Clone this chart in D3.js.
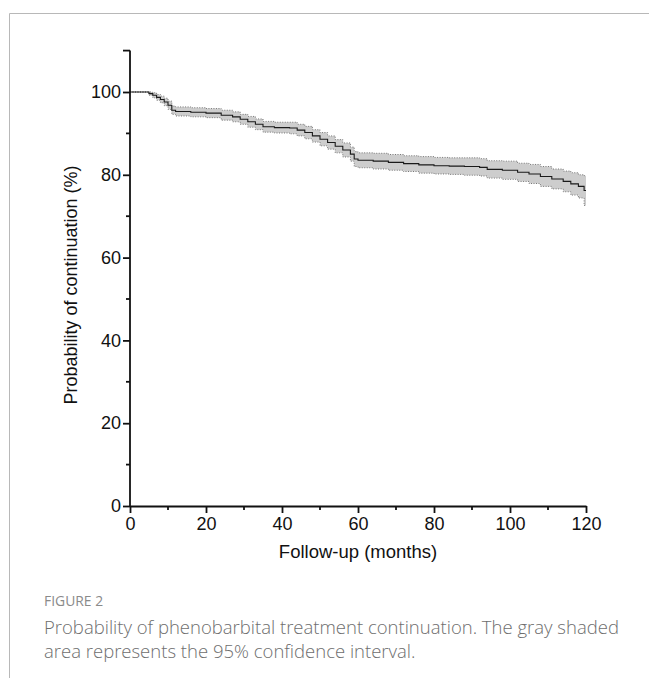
<!DOCTYPE html>
<html>
<head>
<meta charset="utf-8">
<script src="https://cdn.jsdelivr.net/npm/d3@7"></script>
<style>
  body { margin: 0; background: #fff; }
  svg { display: block; }
</style>
</head>
<body>
<svg id="chart" width="649" height="678"></svg>
<script>
// Kaplan-Meier estimate (months, %)
const months = [0, 5, 6, 7, 8, 9, 10, 11, 12, 16, 20, 24, 27, 29, 31, 33, 35, 38, 42, 44, 46, 48, 50, 52, 54, 56, 58, 59, 60, 64, 68, 72, 76, 80, 84, 88, 92, 94, 98, 102, 105, 108, 111, 114, 116, 118, 119.5, 120]
const survival = [100, 99.6, 99.2, 98.7, 98.2, 97.6, 96.8, 95.6, 95.3, 95.1, 94.9, 94.4, 94.0, 93.4, 92.8, 92.2, 91.6, 91.4, 91.3, 90.8, 90.2, 89.4, 88.6, 87.8, 86.9, 86.0, 85.0, 83.8, 83.5, 83.3, 83.0, 82.7, 82.4, 82.2, 82.1, 82.0, 81.8, 81.3, 81.1, 80.6, 80.2, 79.6, 79.0, 78.4, 77.8, 77.2, 76.2, 76.2]
const lower95 = [100, 99.2, 98.6, 98.0, 97.4, 96.7, 95.8, 94.6, 94.2, 94.0, 93.8, 93.2, 92.8, 92.2, 91.5, 90.9, 90.3, 90.1, 89.9, 89.4, 88.7, 87.9, 87.0, 86.2, 85.3, 84.3, 83.3, 82.0, 81.7, 81.4, 81.1, 80.8, 80.4, 80.2, 80.1, 79.9, 79.7, 79.2, 78.9, 78.4, 77.9, 77.2, 76.6, 75.9, 75.1, 74.4, 72.6, 72.6]
const upper95 = [100, 100, 99.8, 99.4, 99.0, 98.5, 97.8, 96.6, 96.4, 96.2, 96.0, 95.6, 95.2, 94.6, 94.1, 93.5, 92.9, 92.7, 92.7, 92.2, 91.7, 90.9, 90.2, 89.4, 88.5, 87.7, 86.7, 85.6, 85.3, 85.2, 84.9, 84.6, 84.4, 84.2, 84.1, 84.1, 83.9, 83.4, 83.3, 82.8, 82.5, 82.0, 81.4, 80.9, 80.5, 80.0, 79.8, 79.8]

const xMajor = [0, 20, 40, 60, 80, 100, 120]
const xMinor = [10, 30, 50, 70, 90, 110]
const yMajor = [0, 20, 40, 60, 80, 100]
const yMinor = [10, 30, 50, 70, 90, 110]

const xTitle = 'Follow-up (months)'
const yTitle = 'Probability of continuation (%)'
const figLabel = 'FIGURE 2'
const captionLines = [
  'Probability of phenobarbital treatment continuation. The gray shaded',
  'area represents the 95% confidence interval.',
]

const svg = d3.select('#chart')

// page frame
svg.append('path')
  .attr('d', 'M9.5,678 V13.5 H649')
  .attr('fill', 'none')
  .attr('stroke', '#b8b8b8')
  .attr('stroke-width', 1)

const x = d3.scaleLinear().domain([0, 120]).range([130, 586])
const y = d3.scaleLinear().domain([0, 110]).range([506, 50.6])

const data = months.map((m, i) => ({
  t: m,
  s: survival[i],
  lo: lower95[i],
  hi: upper95[i],
}))

const area = d3.area()
  .curve(d3.curveStepAfter)
  .x((d) => x(d.t))
  .y0((d) => y(d.lo))
  .y1((d) => y(d.hi))

svg.append('path')
  .datum(data)
  .attr('d', area)
  .attr('fill', '#cdcdcd')

const stepLine = (key) => d3.line()
  .curve(d3.curveStepAfter)
  .x((d) => x(d.t))
  .y((d) => y(d[key]))

;['lo', 'hi'].forEach((k) => {
  svg.append('path')
    .datum(data)
    .attr('d', stepLine(k))
    .attr('fill', 'none')
    .attr('stroke', '#777')
    .attr('stroke-width', 1)
    .attr('stroke-dasharray', '1,1.5')
})

svg.append('path')
  .datum(data)
  .attr('d', stepLine('s'))
  .attr('fill', 'none')
  .attr('stroke', '#1a1a1a')
  .attr('stroke-width', 1.1)

// axes
const axisFont = '"Liberation Sans", Arial, sans-serif'

const xAxis = svg.append('g')
  .attr('transform', 'translate(0,506)')
  .call(d3.axisBottom(x).tickValues(xMajor).tickSize(7).tickSizeOuter(0).tickPadding(4))
xAxis.selectAll('text').attr('font-size', 18).attr('font-family', axisFont).attr('fill', '#111')
xAxis.selectAll('line, path').attr('stroke', '#111').attr('stroke-width', 1.8)

svg.append('g')
  .attr('transform', 'translate(0,506)')
  .selectAll('line')
  .data(xMinor)
  .join('line')
  .attr('x1', (d) => x(d))
  .attr('x2', (d) => x(d))
  .attr('y1', 0)
  .attr('y2', 4)
  .attr('stroke', '#111')
  .attr('stroke-width', 1.8)

const yAxis = svg.append('g')
  .attr('transform', 'translate(130,0)')
  .call(d3.axisLeft(y).tickValues(yMajor).tickSize(7).tickSizeOuter(0).tickPadding(2))
yAxis.selectAll('text').attr('font-size', 18).attr('font-family', axisFont).attr('fill', '#111')
yAxis.selectAll('line, path').attr('stroke', '#111').attr('stroke-width', 1.8)
yAxis.select('.domain').attr('d', `M0,${y(0)}V${y(110)}`)

svg.append('g')
  .attr('transform', 'translate(130,0)')
  .selectAll('line')
  .data(yMinor)
  .join('line')
  .attr('x1', 0)
  .attr('x2', (d) => (d === 110 ? -7 : -4))
  .attr('y1', (d) => y(d))
  .attr('y2', (d) => y(d))
  .attr('stroke', '#111')
  .attr('stroke-width', 1.8)

svg.append('text')
  .attr('x', 358)
  .attr('y', 558)
  .attr('text-anchor', 'middle')
  .attr('font-family', axisFont)
  .attr('font-size', 18.5)
  .attr('fill', '#111')
  .text(xTitle)

svg.append('text')
  .attr('transform', 'translate(77,285) rotate(-90)')
  .attr('text-anchor', 'middle')
  .attr('font-family', axisFont)
  .attr('font-size', 18)
  .attr('fill', '#111')
  .text(yTitle)

// caption
const capFont = '"Open Sans", "Noto Sans", sans-serif'

svg.append('text')
  .attr('x', 44)
  .attr('y', 606)
  .attr('font-family', capFont)
  .attr('font-size', 13.9)
  .attr('fill', '#8a8a8a')
  .text(figLabel)

svg.append('g')
  .selectAll('text')
  .data(captionLines)
  .join('text')
  .attr('x', 44)
  .attr('y', (d, i) => 634 + i * 24)
  .attr('font-family', capFont)
  .attr('font-size', 18.5)
  .attr('font-weight', 300)
  .attr('fill', '#6e6e6e')
  .text((d) => d)
</script>
</body>
</html>
